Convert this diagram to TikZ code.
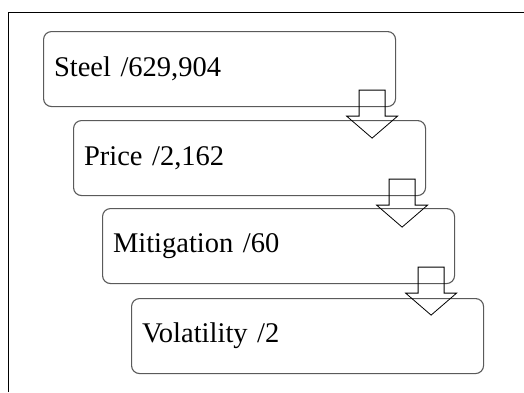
\documentclass[tikz,border=0pt]{standalone}
\usepackage{fontspec}
\setmainfont{Liberation Serif}
\usetikzlibrary{calc}
\definecolor{boxline}{HTML}{5A5A5A}
\tikzset{
  stagebox/.style={draw=boxline, line width=1.1pt, rounded corners=8pt,
    anchor=north west, minimum height=75pt, text width=331pt,
    inner xsep=10.5pt, inner ysep=0pt, align=left,
    font=\fontsize{28.5}{32}\selectfont},
  blockarrow/.style={draw=black, line width=0.8pt, line join=miter},
  frame/.style={draw=black, line width=0.8pt}
}
\begin{document}
\begin{tikzpicture}[x=1pt, y=-1pt]
  \useasboundingbox (0,0) rectangle (524,392);
  % page frame (only its top and left sides fall inside the picture)
  \coordinate (fl) at (8,392);
  \coordinate (fc) at (8,12);
  \coordinate (fr) at (524,12);
  \draw[frame] (fl) -- (fc) -- (fr);

  % the four stages
  \node[stagebox] (s1) at (43,31)  {Steel /629,904};
  \node[stagebox] (s2) at (73,120) {Price /2,162};
  \node[stagebox] (s3) at (102,208) {Mitigation /60};
  \node[stagebox] (s4) at (131,298) {Volatility /2};

  % hollow block arrows from each stage to the next
  \foreach \a/\b in {s1/s2, s2/s3, s3/s4} {
    \coordinate (c) at ($(\a.south east)+(-24,0)$);
    \draw[blockarrow]
      ($(c)+(-13,-17)$) -- ($(c)+(13,-17)$) -- ($(c)+(13,9)$) --
      ($(c)+(25.5,9)$) -- ($(c)+(0,31)$) -- ($(c)+(-25.5,9)$) --
      ($(c)+(-13,9)$) -- cycle;
  }
\end{tikzpicture}
\end{document}
